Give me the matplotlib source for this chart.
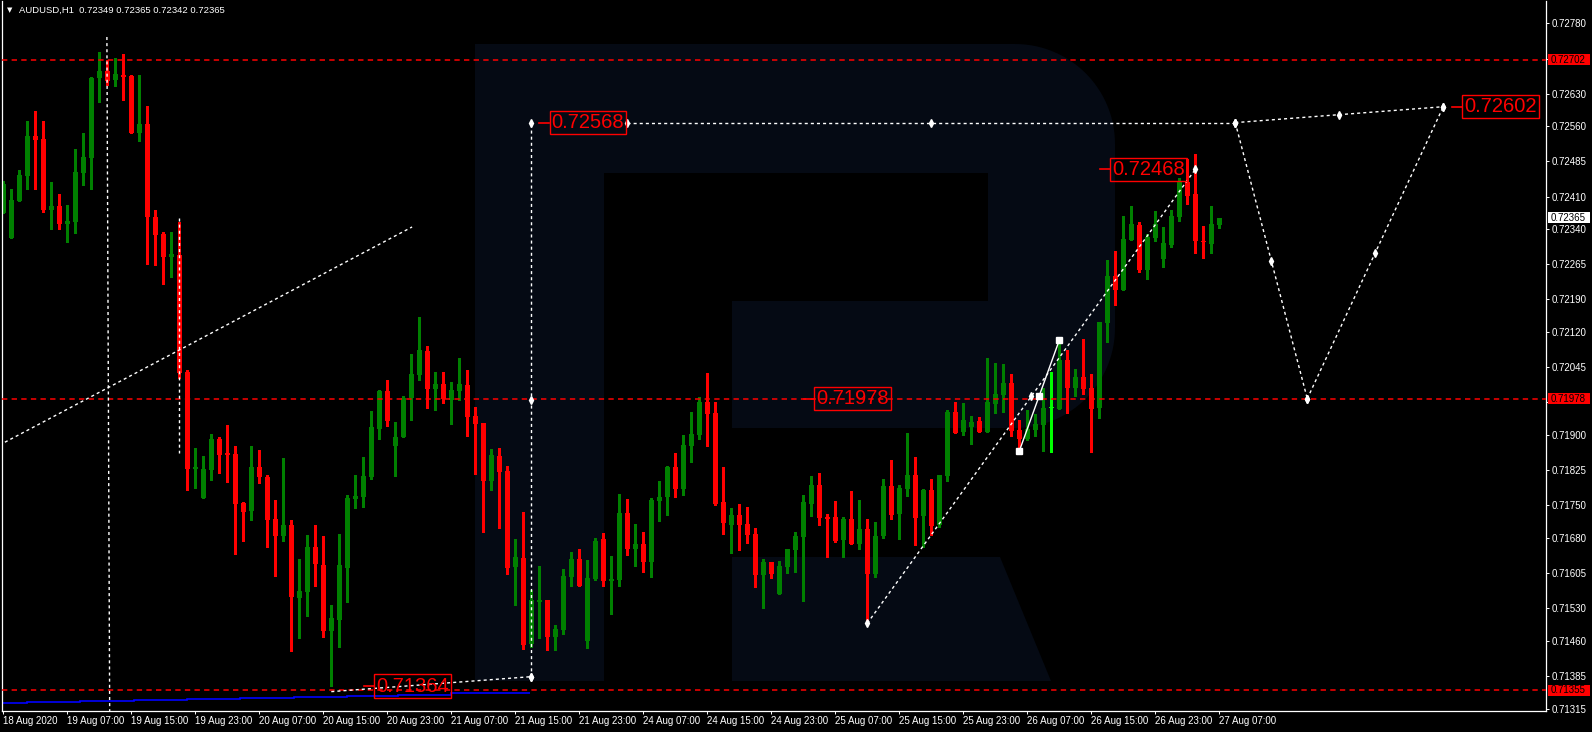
import numpy as np
import matplotlib
matplotlib.use("Agg")
import matplotlib.pyplot as plt
from matplotlib.patches import Polygon, Rectangle
from matplotlib.transforms import Affine2D, blended_transform_factory

# ---------------- data ----------------
symbol = "AUDUSD,H1"

opens = [0.72375, 0.72322, 0.72401, 0.72454, 0.72539, 0.72533, 0.72381, 0.72390, 0.72351, 0.72356,
         0.72461, 0.72492, 0.72663, 0.72678, 0.72659, 0.72670, 0.72668, 0.72546, 0.72565, 0.72366,
         0.72330, 0.72281, 0.72285, 0.72035, 0.71828, 0.71766, 0.71826, 0.71892, 0.71862, 0.71860,
         0.71755, 0.71738, 0.71832, 0.71811, 0.71721, 0.71684, 0.71708, 0.71552, 0.71565, 0.71661,
         0.71623, 0.71482, 0.71505, 0.71616, 0.71764, 0.71768, 0.71811, 0.71913, 0.71995, 0.71877,
         0.71896, 0.71980, 0.72028, 0.72080, 0.71999, 0.72009, 0.71975, 0.71995, 0.72007, 0.71941,
         0.71926, 0.71802, 0.71856, 0.71824, 0.71618, 0.71637, 0.71454, 0.71544, 0.71548, 0.71469,
         0.71484, 0.71597, 0.71635, 0.71460, 0.71593, 0.71678, 0.71588, 0.71590, 0.71734, 0.71657,
         0.71667, 0.71629, 0.71759, 0.71768, 0.71832, 0.71785, 0.71877, 0.71900, 0.71971, 0.71948,
         0.71757, 0.71708, 0.71729, 0.71710, 0.71689, 0.71601, 0.71629, 0.71561, 0.71618, 0.71655,
         0.71682, 0.71752, 0.71794, 0.71725, 0.71725, 0.71676, 0.71721, 0.71667, 0.71700, 0.71603,
         0.71684, 0.71791, 0.71731, 0.71785, 0.71815, 0.71727, 0.71783, 0.71708, 0.71813, 0.71950,
         0.71907, 0.71917, 0.71930, 0.71907, 0.71966, 0.71986, 0.72012, 0.71911, 0.71892, 0.71911,
         0.71922, 0.71958, 0.71956, 0.72061, 0.72001, 0.72024, 0.72001, 0.71958, 0.72140, 0.72240,
         0.72210, 0.72317, 0.72349, 0.72253, 0.72322, 0.72277, 0.72306, 0.72366, 0.72441, 0.72415,
         0.72315, 0.72309, 0.72349]
highs = [0.72443, 0.72426, 0.72467, 0.72572, 0.72593, 0.72572, 0.72441, 0.72415, 0.72392, 0.72512,
         0.72546, 0.72665, 0.72719, 0.72702, 0.72706, 0.72715, 0.72670, 0.72670, 0.72603, 0.72381,
         0.72334, 0.72334, 0.72356, 0.72039, 0.71873, 0.71856, 0.71902, 0.71896, 0.71922, 0.71877,
         0.71757, 0.71877, 0.71868, 0.71815, 0.71761, 0.71851, 0.71719, 0.71635, 0.71687, 0.71708,
         0.71684, 0.71537, 0.71689, 0.71772, 0.71815, 0.71853, 0.71952, 0.71997, 0.72018, 0.71928,
         0.71984, 0.72073, 0.72152, 0.72091, 0.72035, 0.72035, 0.72014, 0.72065, 0.72039, 0.71960,
         0.71926, 0.71870, 0.71873, 0.71834, 0.71678, 0.71736, 0.71569, 0.71620, 0.71548, 0.71495,
         0.71614, 0.71650, 0.71657, 0.71633, 0.71680, 0.71691, 0.71642, 0.71774, 0.71764, 0.71710,
         0.71693, 0.71766, 0.71802, 0.71834, 0.71862, 0.71900, 0.71950, 0.71982, 0.72033, 0.71971,
         0.71832, 0.71744, 0.71752, 0.71747, 0.71702, 0.71635, 0.71629, 0.71631, 0.71657, 0.71693,
         0.71772, 0.71813, 0.71819, 0.71731, 0.71759, 0.71725, 0.71781, 0.71761, 0.71721, 0.71715,
         0.71806, 0.71847, 0.71794, 0.71905, 0.71853, 0.71785, 0.71806, 0.71815, 0.71954, 0.71971,
         0.71969, 0.71941, 0.71939, 0.72065, 0.72054, 0.72052, 0.72031, 0.71932, 0.71954, 0.71945,
         0.72001, 0.72035, 0.72103, 0.72082, 0.72041, 0.72106, 0.72031, 0.72142, 0.72274, 0.72294,
         0.72368, 0.72390, 0.72356, 0.72330, 0.72379, 0.72345, 0.72381, 0.72450, 0.72490, 0.72501,
         0.72347, 0.72390, 0.72365]
lows = [0.72375, 0.72322, 0.72401, 0.72426, 0.72426, 0.72377, 0.72341, 0.72341, 0.72313, 0.72333,
        0.72434, 0.72426, 0.72612, 0.72648, 0.72646, 0.72616, 0.72546, 0.72529, 0.72265, 0.72263,
        0.72223, 0.72238, 0.72022, 0.71783, 0.71787, 0.71766, 0.71804, 0.71819, 0.71800, 0.71646,
        0.71674, 0.71719, 0.71798, 0.71661, 0.71599, 0.71674, 0.71439, 0.71466, 0.71514, 0.71578,
        0.71469, 0.71364, 0.71447, 0.71544, 0.71744, 0.71747, 0.71806, 0.71892, 0.71920, 0.71813,
        0.71896, 0.71932, 0.72018, 0.71958, 0.71954, 0.71969, 0.71923, 0.71975, 0.71898, 0.71817,
        0.71693, 0.71783, 0.71702, 0.71603, 0.71537, 0.71443, 0.71447, 0.71466, 0.71441, 0.71441,
        0.71475, 0.71578, 0.71578, 0.71445, 0.71590, 0.71578, 0.71518, 0.71578, 0.71644, 0.71620,
        0.71608, 0.71597, 0.71717, 0.71729, 0.71768, 0.71772, 0.71843, 0.71892, 0.71877, 0.71750,
        0.71689, 0.71648, 0.71655, 0.71670, 0.71575, 0.71531, 0.71595, 0.71561, 0.71605, 0.71608,
        0.71546, 0.71727, 0.71708, 0.71640, 0.71672, 0.71640, 0.71667, 0.71657, 0.71501, 0.71597,
        0.71680, 0.71721, 0.71678, 0.71770, 0.71665, 0.71661, 0.71687, 0.71704, 0.71802, 0.71905,
        0.71900, 0.71881, 0.71907, 0.71907, 0.71948, 0.71950, 0.71898, 0.71866, 0.71890, 0.71898,
        0.71866, 0.71864, 0.71956, 0.71948, 0.71984, 0.71988, 0.71864, 0.71937, 0.72099, 0.72178,
        0.72210, 0.72317, 0.72249, 0.72234, 0.72315, 0.72259, 0.72302, 0.72358, 0.72394, 0.72289,
        0.72279, 0.72289, 0.72342]
closes = [0.72436, 0.72403, 0.72456, 0.72539, 0.72531, 0.72381, 0.72390, 0.72351, 0.72358, 0.72463,
          0.72494, 0.72663, 0.72678, 0.72657, 0.72672, 0.72665, 0.72546, 0.72565, 0.72366, 0.72328,
          0.72281, 0.72287, 0.72033, 0.71828, 0.71832, 0.71828, 0.71892, 0.71857, 0.71857, 0.71752,
          0.71736, 0.71832, 0.71811, 0.71719, 0.71684, 0.71708, 0.71554, 0.71567, 0.71661, 0.71625,
          0.71482, 0.71509, 0.71623, 0.71766, 0.71770, 0.71813, 0.71917, 0.71995, 0.71930, 0.71896,
          0.71980, 0.72031, 0.72082, 0.71999, 0.72009, 0.71977, 0.71997, 0.72009, 0.71939, 0.71923,
          0.71802, 0.71857, 0.71821, 0.71616, 0.71640, 0.71452, 0.71548, 0.71548, 0.71469, 0.71486,
          0.71599, 0.71635, 0.71578, 0.71595, 0.71674, 0.71588, 0.71593, 0.71734, 0.71657, 0.71667,
          0.71629, 0.71761, 0.71768, 0.71832, 0.71785, 0.71879, 0.71902, 0.71971, 0.71945, 0.71752,
          0.71713, 0.71729, 0.71708, 0.71687, 0.71601, 0.71629, 0.71603, 0.71620, 0.71657, 0.71684,
          0.71757, 0.71794, 0.71723, 0.71721, 0.71674, 0.71721, 0.71667, 0.71700, 0.71603, 0.71684,
          0.71791, 0.71729, 0.71787, 0.71815, 0.71723, 0.71783, 0.71706, 0.71815, 0.71950, 0.71905,
          0.71932, 0.71928, 0.71907, 0.71971, 0.71988, 0.72012, 0.71909, 0.71892, 0.71913, 0.71923,
          0.71958, 0.71958, 0.72061, 0.72001, 0.72024, 0.71999, 0.71956, 0.72142, 0.72240, 0.72210,
          0.72319, 0.72351, 0.72253, 0.72324, 0.72351, 0.72311, 0.72368, 0.72441, 0.72411, 0.72315,
          0.72313, 0.72351, 0.72365]

time_labels = ["18 Aug 2020", "19 Aug 07:00", "19 Aug 15:00", "19 Aug 23:00", "20 Aug 07:00",
               "20 Aug 15:00", "20 Aug 23:00", "21 Aug 07:00", "21 Aug 15:00", "21 Aug 23:00",
               "24 Aug 07:00", "24 Aug 15:00", "24 Aug 23:00", "25 Aug 07:00", "25 Aug 15:00",
               "25 Aug 23:00", "26 Aug 07:00", "26 Aug 15:00", "26 Aug 23:00", "27 Aug 07:00"]
bars_per_label = 8

price_ticks = [0.72780, 0.72705, 0.72630, 0.72560, 0.72485, 0.72410, 0.72340, 0.72265, 0.72190,
               0.72120, 0.72045, 0.71970, 0.71900, 0.71825, 0.71750, 0.71680, 0.71605, 0.71530,
               0.71460, 0.71385, 0.71315]
hidden_tick_labels = [0.72705, 0.71970]   # covered by the red level boxes

level_lines = [0.72702, 0.71978, 0.71355]

# blue step line at the bottom (bar-index edges and values)
blue_edges = [-0.2, 3.0, 9.6, 16.3, 23.0, 29.6, 36.3, 43.0, 49.3, 56.0, 62.7, 65.8]
blue_values = [0.71328, 0.71330, 0.71332, 0.71334, 0.71336, 0.71339, 0.71341, 0.71343,
               0.71345, 0.71348, 0.71350]

# dashed drawing objects: (bar index pair, price pair)
trend_a_x, trend_a_y = [0.2, 51.1], [0.71885, 0.72345]
vline_b_x, vline_b_y = [12.95, 13.3], [0.72751, 0.71300]
vline_c_x, vline_c_y = [22.0, 22.0], [0.72364, 0.71862]
path_d_x, path_d_y = [41.0, 66.0], [0.71352, 0.71384]
# segments with handle markers at both ends and middle
handled_segments = [
    ([66.0, 66.0], [0.71384, 0.72568]),
    ([78.0, 154.0], [0.72568, 0.72568]),
    ([154.0, 180.0], [0.72568, 0.72602]),
    ([154.0, 163.0], [0.72568, 0.71978]),
    ([163.0, 180.0], [0.71978, 0.72602]),
    ([108.0, 149.0], [0.71498, 0.72468]),
]
selected_x, selected_y = [127.0, 132.0], [0.71866, 0.72103]

# text price labels (value, bar index of the box's left edge)
label_values = [0.72568, 0.72468, 0.71978, 0.72602, 0.71364]
label_index = [68.2, 138.3, 101.3, 182.3, 46.3]

# ---------------- figure ----------------
W, H, DPI = 1592, 732, 100
plt.rcParams["font.family"] = ["Liberation Sans", "DejaVu Sans"]

fig = plt.figure(figsize=(W / DPI, H / DPI), dpi=DPI, facecolor="black")
ax = fig.add_axes([2 / W, (H - 711) / H, 1544 / W, 710 / H])
ax.set_facecolor("black")
ax.set_xlim(-0.1625, 192.84)
ax.set_ylim(0.713106, 0.728279)

# watermark "R" in pixel space
pix = Affine2D().scale(1, -1).translate(0, H)
navy = "#050a14"
t1 = np.linspace(-np.pi / 2, 0, 30)
t2 = np.linspace(0, np.pi / 2, 30)
bowl = [(475, 44)] + [(1015 + 100 * np.cos(t), 144 + 100 * np.sin(t)) for t in t1] + \
       [(1015 + 100 * np.cos(t), 328 + 100 * np.sin(t)) for t in t2] + [(475, 428)]
for patch in [Polygon(bowl, closed=True),
              Rectangle((475, 428), 129, 253),
              Polygon([(732, 557), (1000, 557), (1051, 681), (732, 681)], closed=True)]:
    patch.set_transform(pix)
    patch.set_facecolor(navy)
    patch.set_edgecolor("none")
    patch.set_zorder(0.1)
    ax.add_patch(patch)
for patch in [Rectangle((604, 173), 384, 128), Rectangle((604, 301), 128, 127)]:
    patch.set_transform(pix)
    patch.set_facecolor("black")
    patch.set_edgecolor("none")
    patch.set_zorder(0.2)
    ax.add_patch(patch)

# candles
o = np.array(opens); h = np.array(highs); l = np.array(lows); c = np.array(closes)
idx = np.arange(len(o))
colors = np.where(c > o, "#008000", np.where(c < o, "#ff0000", "#00ff00"))
ax.vlines(idx, l, h, colors=colors, linewidth=0.75, zorder=2, antialiased=False)
body_bottom = np.minimum(o, c)
body_height = np.maximum(np.abs(c - o), 0.000015)
ax.bar(idx, body_height, bottom=body_bottom, width=0.62, color=colors, linewidth=0,
       zorder=2.1, antialiased=False)

# blue step line
ax.stairs(blue_values, blue_edges, color="#0000ff", linewidth=1.2, baseline=None, zorder=1.5)

# red dashed levels
for lv in level_lines:
    ax.axhline(lv, color="#ff0000", linewidth=1.1, linestyle=(0, (3.5, 2.8)), zorder=3)

# white dashed drawings
dash = (0, (2.2, 2.2))
for xs, ys in [(trend_a_x, trend_a_y), (vline_b_x, vline_b_y), (vline_c_x, vline_c_y),
               (path_d_x, path_d_y)]:
    ax.plot(xs, ys, color="white", linewidth=1.0, linestyle=dash, zorder=3.2)
for xs, ys in handled_segments:
    ax.plot(xs, ys, color="white", linewidth=1.0, linestyle=dash, zorder=3.2)
    mx = [xs[0], (xs[0] + xs[1]) / 2, xs[1]]
    my = [ys[0], (ys[0] + ys[1]) / 2, ys[1]]
    ax.plot(mx, my, linestyle="none", marker="d", markersize=4, color="white", zorder=3.3)
ax.plot([path_d_x[1]], [path_d_y[1]], linestyle="none", marker="d", markersize=4,
        color="white", zorder=3.3)

# selected solid trend line with square handles
ax.plot(selected_x, selected_y, color="white", linewidth=1.0, zorder=3.2)
ax.plot([selected_x[0], sum(selected_x) / 2, selected_x[1]],
        [selected_y[0], sum(selected_y) / 2, selected_y[1]],
        linestyle="none", marker="s", markersize=4, color="white", zorder=3.3)

# red price labels with leaders
for val, xi in zip(label_values, label_index):
    ax.plot([xi - 1.2, xi], [val, val], color="#ff0000", linewidth=1.2, zorder=3.4)
    ax.text(xi + 0.35, val, f"{val:.5f}", color="#ff0000", fontsize=14.5,
            ha="left", va="center", zorder=3.5,
            bbox=dict(boxstyle="square,pad=0.1", fc="none", ec="#ff0000", lw=1.0))

# axes styling
ax.spines["top"].set_visible(False)
for side in ["left", "right", "bottom"]:
    ax.spines[side].set_color("white")
    ax.spines[side].set_linewidth(0.9)
ax.yaxis.tick_right()
ax.set_yticks(price_ticks)
ax.set_yticklabels(["" if p in hidden_tick_labels else f"{p:.5f}" for p in price_ticks])
ax.tick_params(axis="y", colors="white", labelsize=7, length=2.2, width=0.7, pad=2.2)
xt = np.arange(len(time_labels)) * bars_per_label
ax.set_xticks(xt)
ax.set_xticklabels(time_labels)
for lbl in ax.get_xticklabels():
    lbl.set_ha("left")
ax.tick_params(axis="x", colors="white", labelsize=7, length=2.2, width=0.7, pad=1.5)

# axis price boxes
bt = blended_transform_factory(ax.transAxes, ax.transData)
box_h = 0.000235
x0 = (1548 - 2) / 1544
x1 = (1590 - 2) / 1544
for val, fc in [(level_lines[0], "#ff0000"), (level_lines[1], "#ff0000"),
                (level_lines[2], "#ff0000"), (closes[-1], "white")]:
    r = Rectangle((x0, val - box_h / 2), x1 - x0, box_h, transform=bt, facecolor=fc,
                  edgecolor="none", clip_on=False, zorder=5)
    ax.add_patch(r)
    ax.text(x0 + 3 / 1544, val, f"{val:.5f}", transform=bt, color="black", fontsize=7,
            ha="left", va="center", clip_on=False, zorder=6)

# header
fig.text(9.5 / W, 1 - 10 / H, "\u25bc", color="white", fontsize=5, ha="center", va="center",
         family="DejaVu Sans")
fig.text(19 / W, 1 - 10 / H,
         f"{symbol}  {opens[-1]:.5f} {highs[-1]:.5f} {lows[-1]:.5f} {closes[-1]:.5f}",
         color="white", fontsize=6.8, ha="left", va="center")

fig.savefig("out.png", dpi=DPI, facecolor="black")
